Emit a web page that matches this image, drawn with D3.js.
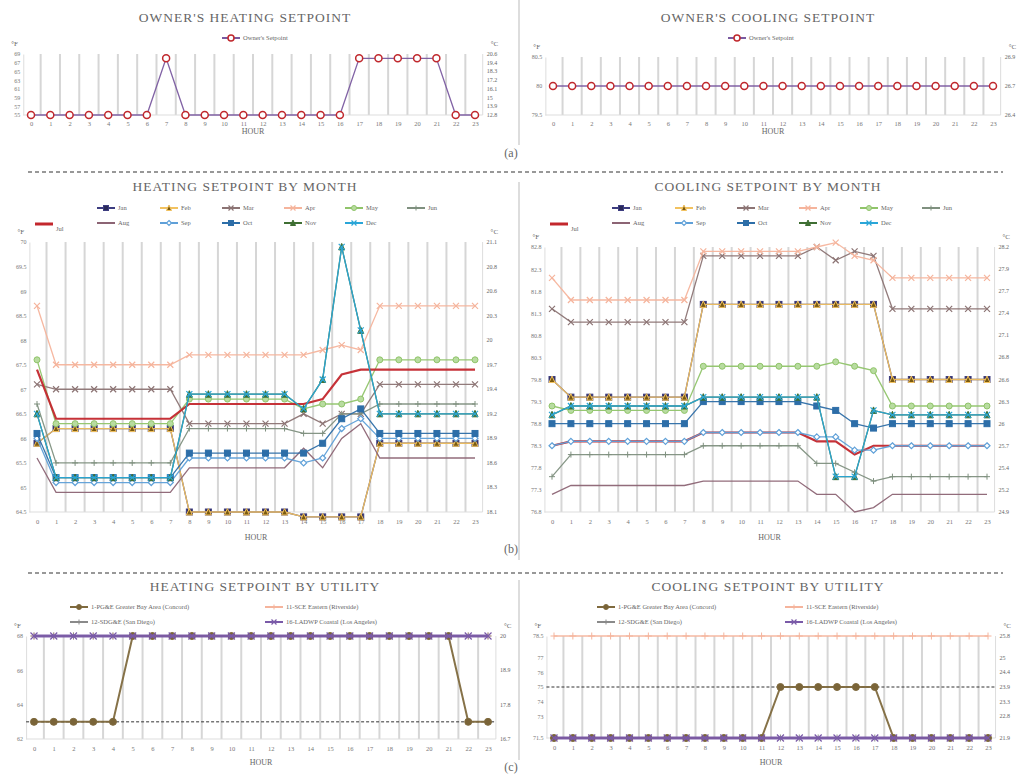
<!DOCTYPE html>
<html><head><meta charset="utf-8">
<script src="https://cdn.jsdelivr.net/npm/d3@7"></script>
<style>body{margin:0;background:#fff}text{font-family:"Liberation Serif","DejaVu Serif",serif;fill:#666}.tk text{fill:#777 !important}</style>
</head><body><svg id="c" width="1021" height="774"></svg>
<script>
const hours = d3.range(24);
// Panel (a)
const ownerHeat = [55,55,55,55,55,55,55,68,55,55,55,55,55,55,55,55,55,68,68,68,68,68,55,55];
const ownerCool = Array(24).fill(80);
// Panel (b) heating by month
const months = ["Jan","Feb","Mar","Apr","May","Jun","Jul","Aug","Sep","Oct","Nov","Dec"];
const heatJan=[65.9,66.2,66.2,66.2,66.2,66.2,66.2,66.2,64.5,64.5,64.5,64.5,64.5,64.5,64.4,64.4,64.4,64.4,65.9,65.9,65.9,65.9,65.9,65.9];
const heatFeb=heatJan.slice();
const heatMar=[67.1,67,67,67,67,67,67,67,66.3,66.3,66.3,66.3,66.3,66.3,66.5,66.3,66.5,66.5,67.1,67.1,67.1,67.1,67.1,67.1];
const heatApr=[68.7,67.5,67.5,67.5,67.5,67.5,67.5,67.5,67.7,67.7,67.7,67.7,67.7,67.7,67.7,67.8,67.9,67.8,68.7,68.7,68.7,68.7,68.7,68.7];
const heatMay=[67.6,66.3,66.3,66.3,66.3,66.3,66.3,66.3,66.8,66.8,66.8,66.8,66.8,66.8,66.6,66.7,66.7,66.8,67.6,67.6,67.6,67.6,67.6,67.6];
const heatJun=[66.7,65.5,65.5,65.5,65.5,65.5,65.5,65.5,66.2,66.2,66.2,66.2,66.2,66.2,66.1,66.1,66.5,66.5,66.7,66.7,66.7,66.7,66.7,66.7];
const heatJul=[67.4,66.4,66.4,66.4,66.4,66.4,66.4,66.4,66.7,66.7,66.7,66.7,66.7,66.7,66.7,66.8,67.3,67.4,67.4,67.4,67.4,67.4,67.4,67.4];
const heatAug=[65.6,64.9,64.9,64.9,64.9,64.9,64.9,64.9,65.4,65.4,65.4,65.4,65.4,65.4,65.8,65.4,66.0,66.3,65.6,65.6,65.6,65.6,65.6,65.6];
const heatSep=[66.0,65.1,65.1,65.1,65.1,65.1,65.1,65.1,65.6,65.6,65.6,65.6,65.6,65.6,65.5,65.6,66.2,66.4,66.0,66.0,66.0,66.0,66.0,66.0];
const heatOct=[66.1,65.2,65.2,65.2,65.2,65.2,65.2,65.2,65.7,65.7,65.7,65.7,65.7,65.7,65.7,65.9,66.4,66.6,66.1,66.1,66.1,66.1,66.1,66.1];
const heatNov=[66.5,65.2,65.2,65.2,65.2,65.2,65.2,65.2,66.9,66.9,66.9,66.9,66.9,66.9,66.6,67.2,69.9,68.2,66.5,66.5,66.5,66.5,66.5,66.5];
const heatDec=heatNov.slice();
// Panel (b) cooling by month
const coolJan=[79.8,79.4,79.4,79.4,79.4,79.4,79.4,79.4,81.5,81.5,81.5,81.5,81.5,81.5,81.5,81.5,81.5,81.5,79.8,79.8,79.8,79.8,79.8,79.8];
const coolFeb=coolJan.slice();
const coolMar=[81.4,81.1,81.1,81.1,81.1,81.1,81.1,81.1,82.6,82.6,82.6,82.6,82.6,82.6,82.8,82.5,82.7,82.6,81.4,81.4,81.4,81.4,81.4,81.4];
const coolApr=[82.1,81.6,81.6,81.6,81.6,81.6,81.6,81.6,82.7,82.7,82.7,82.7,82.7,82.7,82.8,82.9,82.6,82.5,82.1,82.1,82.1,82.1,82.1,82.1];
const coolMay=[79.2,79.1,79.1,79.1,79.1,79.1,79.1,79.1,80.1,80.1,80.1,80.1,80.1,80.1,80.1,80.2,80.1,80.0,79.2,79.2,79.2,79.2,79.2,79.2];
const coolJun=[77.6,78.1,78.1,78.1,78.1,78.1,78.1,78.1,78.3,78.3,78.3,78.3,78.3,78.3,77.9,77.9,77.7,77.5,77.6,77.6,77.6,77.6,77.6,77.6];
const coolJul=[78.3,78.4,78.4,78.4,78.4,78.4,78.4,78.4,78.6,78.6,78.6,78.6,78.6,78.6,78.4,78.4,78.1,78.3,78.3,78.3,78.3,78.3,78.3,78.3];
const coolAug=[77.2,77.4,77.4,77.4,77.4,77.4,77.4,77.4,77.5,77.5,77.5,77.5,77.5,77.5,77.2,77.2,76.8,76.9,77.2,77.2,77.2,77.2,77.2,77.2];
const coolSep=[78.3,78.4,78.4,78.4,78.4,78.4,78.4,78.4,78.6,78.6,78.6,78.6,78.6,78.6,78.5,78.5,78.2,78.2,78.3,78.3,78.3,78.3,78.3,78.3];
const coolOct=[78.8,78.8,78.8,78.8,78.8,78.8,78.8,78.8,79.3,79.3,79.3,79.3,79.3,79.3,79.2,79.1,78.8,78.7,78.8,78.8,78.8,78.8,78.8,78.8];
const coolNov=[79.0,79.2,79.2,79.2,79.2,79.2,79.2,79.2,79.4,79.4,79.4,79.4,79.4,79.4,79.4,77.6,77.6,79.1,79.0,79.0,79.0,79.0,79.0,79.0];
const coolDec=coolNov.slice();
// Panel (c)
const utilities=["1-PG&E Greater Bay Area (Concord)","11-SCE Eastern (Riverside)","12-SDG&E (San Diego)","16-LADWP Coastal (Los Angeles)"];
const heatPGE=[63,63,63,63,63,68,68,68,68,68,68,68,68,68,68,68,68,68,68,68,68,68,63,63];
const heatSCE=Array(24).fill(68), heatSDGE=Array(24).fill(68), heatLADWP=Array(24).fill(68);
const coolPGE=[71.5,71.5,71.5,71.5,71.5,71.5,71.5,71.5,71.5,71.5,71.5,71.5,75,75,75,75,75,75,71.5,71.5,71.5,71.5,71.5,71.5];
const coolSCE=Array(24).fill(78.5), coolSDGE=Array(24).fill(71.5), coolLADWP=Array(24).fill(71.5);
// tick labels
const aHeatL=[55,57,59,61,63,65,67,69], aHeatR=["12.8","13.9","15","16.1","17.2","18.3","19.4","20.6"];
const aCoolL=[79.5,80,80.5], aCoolR=["26.4","26.7","26.9"];
const bHeatL=[64.5,65,65.5,66,66.5,67,67.5,68,68.5,69,69.5,70], bHeatR=["18.1","18.3","18.6","18.9","19.2","19.4","19.7","20","20.3","20.6","20.8","21.1"];
const bCoolL=[76.8,77.3,77.8,78.3,78.8,79.3,79.8,80.3,80.8,81.3,81.8,82.3,82.8], bCoolR=["24.9","25.2","25.4","25.7","26","26.3","26.6","26.8","27.1","27.4","27.7","27.9","28.2"];
const cHeatL=[62,64,66,68], cHeatR=["16.7","17.8","18.9","20"];
const cCoolL=[71.5,73,74,75,76,77,78.5], cCoolR=["21.9","22.8","23.3","23.9","24.4","25","25.8"];

const svg=d3.select("#c");
const monthStyle=[
 {c:"#3d3d80",s:"sq",f:"#2a2a5a"},{c:"#f2c260",s:"tri",f:"#7a5a10"},{c:"#8c7474",s:"x"},{c:"#f5b49c",s:"x"},
 {c:"#90c46a",s:"circ",f:"#b8dca0"},{c:"#7f907f",s:"plus"},{c:"#c3272d",s:"none",w:2.2},{c:"#8c6474",s:"dash"},
 {c:"#5fa0d8",s:"dia",f:"#fff"},{c:"#2d6ea8",s:"sq",f:"#2d6ea8"},{c:"#3f6f33",s:"tri",f:"#3f6f33"},{c:"#2aa6d8",s:"x"}];
const utilStyle=[{c:"#7f6a3e",s:"circ",f:"#7a6438",w:2},{c:"#f5b49c",s:"plus"},{c:"#8a8a8a",s:"plus",w:2},{c:"#7a5aa8",s:"x",w:3}];

function marker(g,x,y,st,sz){
 sz=sz||3;
 const c=st.c,f=st.f||c;
 if(st.s==="sq")g.append("rect").attr("x",x-sz).attr("y",y-sz).attr("width",2*sz).attr("height",2*sz).attr("fill",f).attr("stroke",c);
 else if(st.s==="circ")g.append("circle").attr("cx",x).attr("cy",y).attr("r",sz).attr("fill",f).attr("stroke",c);
 else if(st.s==="ocirc")g.append("circle").attr("cx",x).attr("cy",y).attr("r",sz+0.5).attr("fill","#fff").attr("stroke",st.mc||c).attr("stroke-width",1.5);
 else if(st.s==="tri")g.append("path").attr("d",`M${x},${y-sz-0.5}L${x+sz},${y+sz}L${x-sz},${y+sz}Z`).attr("fill",f).attr("stroke",c);
 else if(st.s==="dia")g.append("path").attr("d",`M${x},${y-sz}L${x+sz},${y}L${x},${y+sz}L${x-sz},${y}Z`).attr("fill",f).attr("stroke",c).attr("stroke-width",1.2);
 else if(st.s==="x")g.append("path").attr("d",`M${x-sz},${y-sz}L${x+sz},${y+sz}M${x+sz},${y-sz}L${x-sz},${y+sz}`).attr("stroke",c).attr("stroke-width",1.2);
 else if(st.s==="plus")g.append("path").attr("d",`M${x-sz},${y}L${x+sz},${y}M${x},${y-sz}L${x},${y+sz}`).attr("stroke",c).attr("stroke-width",1);
}

function panel(p){
 const x=d3.scalePoint().domain(hours).range([p.x0,p.x1]);
 const y=d3.scaleLinear().domain(p.dom).range([p.y1,p.y0]);
 const g=svg.append("g");
 g.append("text").attr("x",p.tx).attr("y",p.ty).attr("text-anchor","middle").attr("font-size",13.5).attr("letter-spacing",1).attr("fill","#555").text(p.title);
 const step=x.step();
 hours.forEach(h=>{ if(h>0) g.append("line").attr("x1",x(h)-step/2).attr("x2",x(h)-step/2).attr("y1",y(p.dom[1])).attr("y2",y(p.dom[0])).attr("stroke","#d6d6d6").attr("stroke-width",2);});
 g.append("line").attr("x1",p.x0-step*0.4).attr("x2",p.x1+step*0.4).attr("y1",y(p.dom[0])).attr("y2",y(p.dom[0])).attr("stroke","#ddd");
 const axL=d3.axisLeft(y).tickValues(p.lt).tickSize(0).tickFormat(d=>d);
 const aL=g.append("g").attr("class","tk").attr("transform",`translate(${p.x0-step*0.4},0)`).call(axL);
 aL.select(".domain").attr("stroke","#ddd");
 aL.selectAll("text").attr("font-size",6);
 p.rt.forEach((t,i)=>g.append("text").attr("x",p.x1+step*0.4+4).attr("y",y(p.lt[i])+2).attr("font-size",6).attr("fill","#777").text(t));
 g.append("line").attr("x1",p.x1+step*0.4).attr("x2",p.x1+step*0.4).attr("y1",y(p.dom[1])).attr("y2",y(p.dom[0])).attr("stroke","#ddd");
 const axB=d3.axisBottom(x).tickSize(0).tickPadding(p.tp||4);
 const aB=g.append("g").attr("class","tk").attr("transform",`translate(0,${y(p.dom[0])+3})`).call(axB);
 aB.select(".domain").remove();aB.selectAll("text").attr("font-size",6.5);
 g.append("text").attr("x",(p.x0+p.x1)/2).attr("y",p.hy).attr("text-anchor","middle").attr("font-size",8).attr("fill","#666").text("HOUR");
 g.append("text").attr("x",p.x0-step*0.4-12).attr("y",y(p.dom[1])-8).attr("font-size",7).text("°F");
 g.append("text").attr("x",p.x1+step*0.4+8).attr("y",y(p.dom[1])-8).attr("font-size",7).text("°C");
 (p.dashes||[]).forEach(v=>g.append("line").attr("x1",p.x0-step*0.4).attr("x2",p.x1+step*0.4).attr("y1",y(v)).attr("y2",y(v)).attr("stroke","#333").attr("stroke-dasharray","3,2"));
 const line=d3.line().x((d,i)=>x(i)).y(d=>y(d));
 p.series.forEach((s,k)=>{
  const st=p.styles[k];
  g.append("path").datum(s).attr("d",line).attr("fill","none").attr("stroke",st.c).attr("stroke-width",st.w||1.3).attr("opacity",0.95);
  if(st.s!=="none"&&st.s!=="dash") s.forEach((v,i)=>marker(g,x(i),y(v),st,p.msz));
 });
 p.names.forEach((n,k)=>{
  const st=p.styles[k];const lx=p.lx[k],ly=p.ly[k];
  g.append("line").attr("x1",lx).attr("x2",lx+18).attr("y1",ly).attr("y2",ly).attr("stroke",st.c).attr("stroke-width",st.s==="none"?3:2);
  if(st.s!=="none"&&st.s!=="dash")marker(g,lx+9,ly,st,2.5);
  g.append("text").attr("x",lx+21).attr("y",ly+(n==="Jul"?7:2)).attr("font-size",6.5).attr("fill","#777").text(n);
 });
}
const ownerStyle=[{c:"#7a5aa0",mc:"#c0282d",s:"ocirc",w:1.3}];
panel({title:"OWNER'S  HEATING  SETPOINT",tx:245,ty:22,x0:31,x1:475,y0:54,y1:115,dom:[55,69],lt:aHeatL,rt:aHeatR,hy:134,tp:3,
 series:[ownerHeat],styles:ownerStyle,names:["Owner's Setpoint"],lx:[222],ly:[38],msz:3});
panel({title:"OWNER'S  COOLING  SETPOINT",tx:768,ty:22,x0:553,x1:993,y0:57,y1:115,dom:[79.5,80.5],lt:aCoolL,rt:aCoolR,hy:134,tp:3,
 series:[ownerCool],styles:ownerStyle,names:["Owner's Setpoint"],lx:[728],ly:[38],msz:3});

const lxL=[97,160,222,284,345,407,35,97,160,222,284,345], lyL=[208,208,208,208,208,208,224,223,223,223,223,223];
panel({title:"HEATING  SETPOINT  BY  MONTH",tx:245,ty:191,x0:37,x1:475,y0:242,y1:512,dom:[64.5,70],lt:bHeatL,rt:bHeatR,hy:540,
 series:[heatJan,heatFeb,heatMar,heatApr,heatMay,heatJun,heatJul,heatAug,heatSep,heatOct,heatNov,heatDec],styles:monthStyle,names:months,lx:lxL,ly:lyL,msz:3});
panel({title:"COOLING  SETPOINT  BY  MONTH",tx:768,ty:191,x0:552,x1:987,y0:247,y1:512,dom:[76.8,82.8],lt:bCoolL,rt:bCoolR,hy:540,
 series:[coolJan,coolFeb,coolMar,coolApr,coolMay,coolJun,coolJul,coolAug,coolSep,coolOct,coolNov,coolDec],styles:monthStyle,names:months,lx:lxL.map(v=>v+515),ly:lyL,msz:3});
panel({title:"HEATING  SETPOINT  BY  UTILITY",tx:265,ty:591,x0:34,x1:488,y0:636,y1:739,dom:[62,68],lt:cHeatL,rt:cHeatR,hy:765,dashes:[63],
 series:[heatSCE,heatSDGE,heatPGE,heatLADWP],styles:[utilStyle[1],utilStyle[2],utilStyle[0],utilStyle[3]],names:[utilities[1],utilities[2],utilities[0],utilities[3]],lx:[265,70,70,265],ly:[607,622,607,622],msz:3.5});
panel({title:"COOLING  SETPOINT  BY  UTILITY",tx:768,ty:591,x0:554,x1:988,y0:636,y1:738,dom:[71.5,78.5],lt:cCoolL,rt:cCoolR,hy:765,dashes:[75],
 series:[coolSCE,coolSDGE,coolPGE,coolLADWP],styles:[utilStyle[1],utilStyle[2],utilStyle[0],utilStyle[3]],names:[utilities[1],utilities[2],utilities[0],utilities[3]],lx:[785,597,597,785],ly:[607,622,607,622],msz:3.5});

[[0,145],[182,560],[580,760]].forEach(r=>svg.append("line").attr("x1",519).attr("x2",519).attr("y1",r[0]).attr("y2",r[1]).attr("stroke","#bbb"));
[172,573].forEach(v=>svg.append("line").attr("x1",28).attr("x2",1003).attr("y1",v).attr("y2",v).attr("stroke","#333").attr("stroke-width",1.2).attr("stroke-dasharray","4,3"));
[["(a)",157],["(b)",553],["(c)",771]].forEach(l=>svg.append("text").attr("x",511).attr("y",l[1]).attr("text-anchor","middle").attr("font-size",12).attr("fill","#222").text(l[0]));
</script></body></html>
